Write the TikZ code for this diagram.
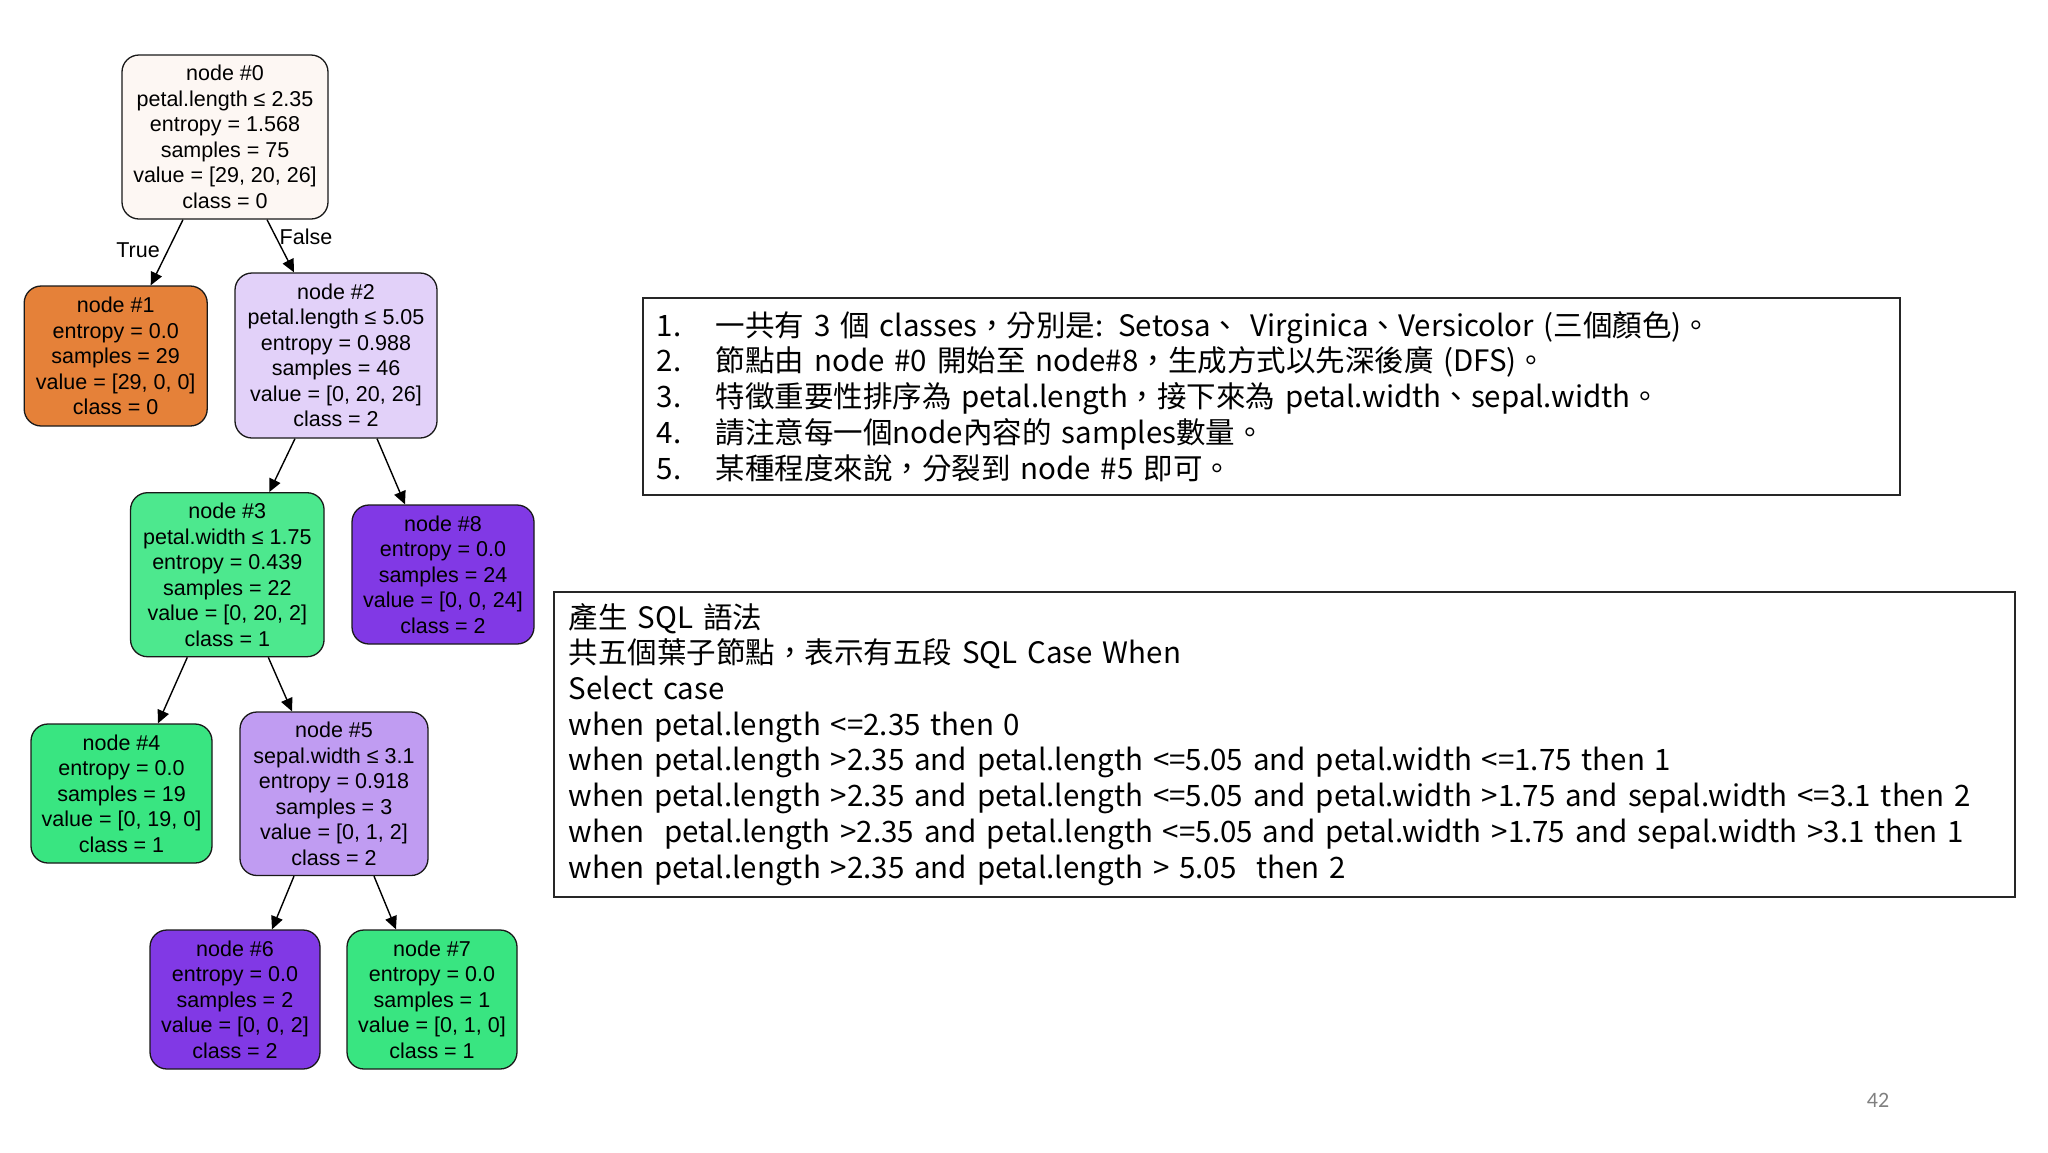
\documentclass[tikz,border=0pt]{standalone}
\usepackage{fontspec}
\setmainfont{Liberation Sans}
\newfontfamily\cjkfont{Noto Sans CJK TC}
\newfontfamily\pgfont{Carlito}
\usetikzlibrary{arrows.meta}
\definecolor{czero}{HTML}{FDF7F3}
\definecolor{corange}{HTML}{E58139}
\definecolor{cnodetwo}{HTML}{E2D1F9}
\definecolor{cnodethree}{HTML}{4DE88E}
\definecolor{cgreen}{HTML}{39E581}
\definecolor{cnodefive}{HTML}{C09CF2}
\definecolor{cpurple}{HTML}{8139E5}
\tikzset{
  tn/.style={draw=black!90, line width=1.3pt, rounded corners=17pt, align=center, inner sep=0pt,
    font=\fontsize{21.5}{25.5}\selectfont},
  edge/.style={line width=1.4pt, -{Triangle[length=13pt,width=12pt]}},
  elabel/.style={font=\fontsize{21.5}{25.5}\selectfont, inner sep=0pt},
  txtbox/.style={draw=black!85, line width=1.6pt, align=left, inner ysep=0pt,
    font=\cjkfont\fontsize{29.5}{35.7}\selectfont}
}
\begin{document}
\begin{tikzpicture}[x=1pt,y=-1pt]
\path[use as bounding box, fill=white] (0,0) rectangle (2048,1152);

\node[tn, fill=czero, minimum width=206pt, minimum height=164pt] (n0) at (225,137)
  {node \#0\\petal.length ≤ 2.35\\entropy = 1.568\\samples = 75\\value = [29, 20, 26]\\class = 0};
\node[tn, fill=corange, minimum width=183pt, minimum height=140pt] (n1) at (115.7,356)
  {node \#1\\entropy = 0.0\\samples = 29\\value = [29, 0, 0]\\class = 0};
\node[tn, fill=cnodetwo, minimum width=202pt, minimum height=165pt] (n2) at (336,355.5)
  {node \#2\\petal.length ≤ 5.05\\entropy = 0.988\\samples = 46\\value = [0, 20, 26]\\class = 2};
\node[tn, fill=cnodethree, minimum width=193.5pt, minimum height=164pt] (n3) at (227.3,574.7)
  {node \#3\\petal.width ≤ 1.75\\entropy = 0.439\\samples = 22\\value = [0, 20, 2]\\class = 1};
\node[tn, fill=cpurple, minimum width=182pt, minimum height=139pt] (n8) at (443,574.5)
  {node \#8\\entropy = 0.0\\samples = 24\\value = [0, 0, 24]\\class = 2};
\node[tn, fill=cgreen, minimum width=181pt, minimum height=139pt] (n4) at (121.5,793.5)
  {node \#4\\entropy = 0.0\\samples = 19\\value = [0, 19, 0]\\class = 1};
\node[tn, fill=cnodefive, minimum width=188pt, minimum height=163.5pt] (n5) at (334,793.75)
  {node \#5\\sepal.width ≤ 3.1\\entropy = 0.918\\samples = 3\\value = [0, 1, 2]\\class = 2};
\node[tn, fill=cpurple, minimum width=170pt, minimum height=139pt] (n6) at (235,999.5)
  {node \#6\\entropy = 0.0\\samples = 2\\value = [0, 0, 2]\\class = 2};
\node[tn, fill=cgreen, minimum width=170pt, minimum height=139pt] (n7) at (432,999.5)
  {node \#7\\entropy = 0.0\\samples = 1\\value = [0, 1, 0]\\class = 1};

\draw[edge] ([xshift=-42pt]n0.south) -- ([xshift=35pt]n1.north);
\draw[edge] ([xshift=42pt]n0.south) -- ([xshift=-42pt]n2.north);
\draw[edge] ([xshift=-41pt]n2.south) -- ([xshift=42pt]n3.north);
\draw[edge] ([xshift=41pt]n2.south) -- ([xshift=-38pt]n8.north);
\draw[edge] ([xshift=-40pt]n3.south) -- ([xshift=36.5pt]n4.north);
\draw[edge] ([xshift=41pt]n3.south) -- ([xshift=-42pt]n5.north);
\draw[edge] ([xshift=-40pt]n5.south) -- ([xshift=37pt]n6.north);
\draw[edge] ([xshift=40pt]n5.south) -- ([xshift=-36pt]n7.north);

\node[elabel] (lt) at (138,250) {True};
\node[elabel] (lf) at (306,237) {False};

\node[txtbox, text width=1229pt, inner xsep=14pt, minimum height=197pt] (box1) at (1271.3,396.4)
  {\makebox[59pt][l]{1.}一共有 3 個 classes，分別是: Setosa、 Virginica、Versicolor (三個顏色)。\\
   \makebox[59pt][l]{2.}節點由 node \#0 開始至 node\#8，生成方式以先深後廣 (DFS)。\\
   \makebox[59pt][l]{3.}特徵重要性排序為 petal.length，接下來為 petal.width、sepal.width。\\
   \makebox[59pt][l]{4.}請注意每一個node內容的 samples數量。\\
   \makebox[59pt][l]{5.}某種程度來說，分裂到 node \#5 即可。};

\node[txtbox, text width=1431pt, inner xsep=15pt, minimum height=305pt] (box2) at (1284.4,744.3)
  {產生 SQL 語法\\
   共五個葉子節點，表示有五段 SQL Case When\\
   Select case\\
   when petal.length <=2.35 then 0\\
   when petal.length >2.35 and petal.length <=5.05 and petal.width <=1.75 then 1\\
   when petal.length >2.35 and petal.length <=5.05 and petal.width >1.75 and sepal.width <=3.1 then 2\\
   when\ \ petal.length >2.35 and petal.length <=5.05 and petal.width >1.75 and sepal.width >3.1 then 1\\
   when petal.length >2.35 and petal.length > 5.05\ \ then 2};

\node[font=\pgfont\fontsize{22}{22}\selectfont, text=black!50, inner sep=0pt] (pg) at (1878,1100) {42};
\end{tikzpicture}
\end{document}
